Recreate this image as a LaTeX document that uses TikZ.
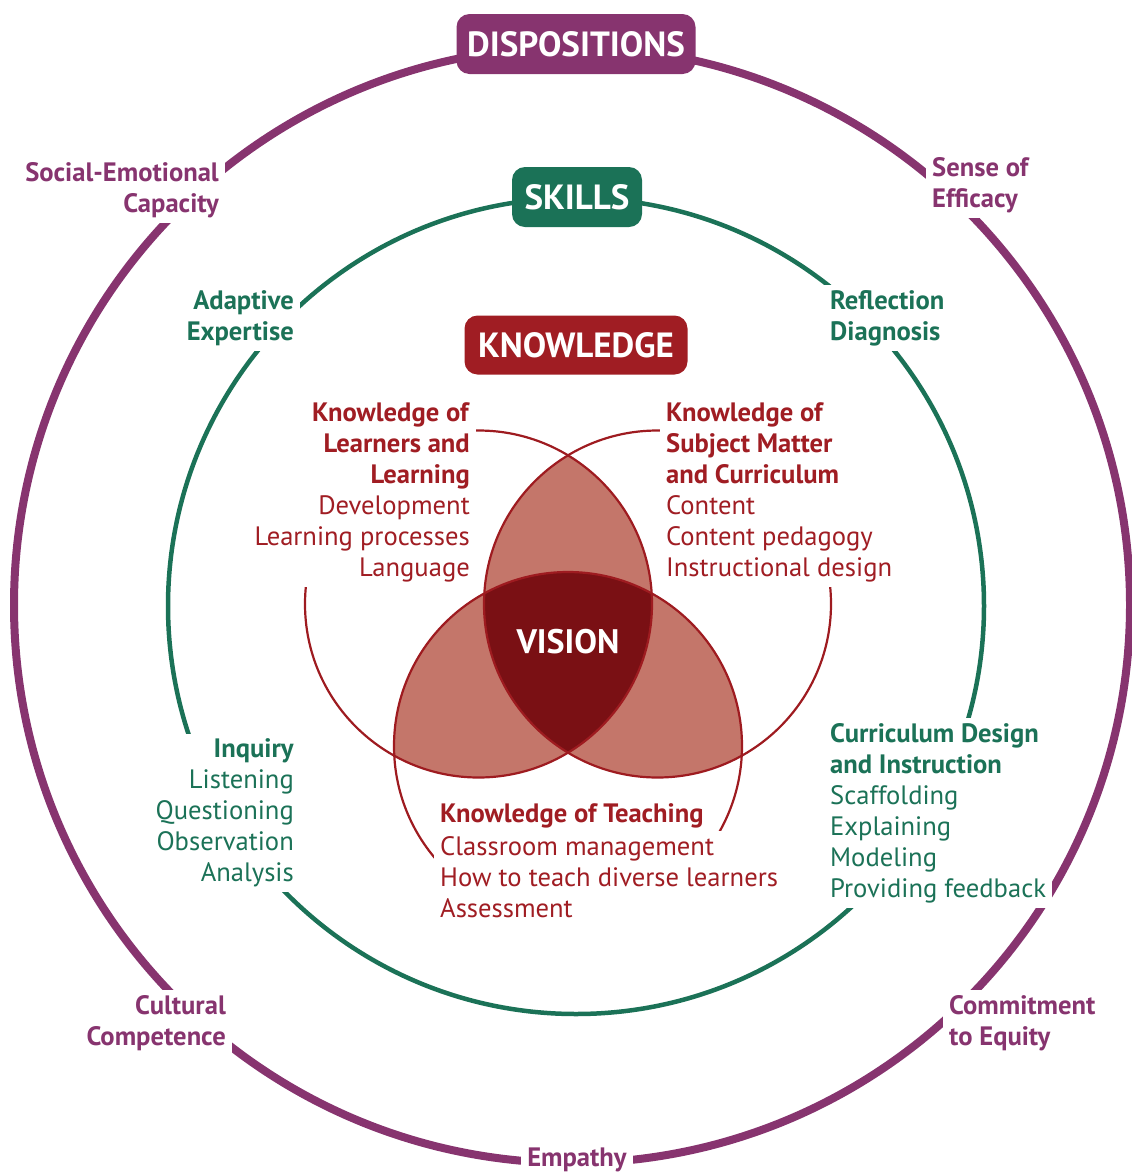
\documentclass[tikz,border=0pt]{standalone}
\usepackage{fontspec}
\setmainfont{PT Sans}
\usetikzlibrary{positioning}
\definecolor{dispurple}{RGB}{135,52,111}
\definecolor{skillgreen}{RGB}{27,114,87}
\definecolor{knowred}{RGB}{160,29,35}
\definecolor{vennline}{RGB}{158,27,32}
\definecolor{vennpair}{RGB}{196,118,106}
\definecolor{venncore}{RGB}{122,16,20}

\begin{document}
\begin{tikzpicture}[x=1pt, y=-1pt,
  every node/.style={font=\fontsize{26.6}{31}\selectfont},
  banner/.style={rounded corners=13pt, text=white, font=\fontsize{35}{35}\selectfont\bfseries, inner sep=0pt, minimum height=60pt},
  lbl/.style={fill=white, inner xsep=6pt, inner ysep=5pt},
  outerlbl/.style={lbl, text=dispurple, font=\fontsize{26.6}{31}\selectfont\bfseries},
  skilllbl/.style={lbl, text=skillgreen},
  knowlbl/.style={lbl, text=knowred}]
\useasboundingbox (0,0) rectangle (1132,1176);
\coordinate (ctrO) at (572,605);
\coordinate (ctrS) at (576,606);
\coordinate (ctrA) at (478.5,604);
\coordinate (ctrB) at (657.5,604);
\coordinate (ctrC) at (568,746);

\draw[dispurple, line width=8pt] (ctrO) circle[radius=558pt];
\draw[skillgreen, line width=4.5pt] (ctrS) circle[radius=408pt];

\begin{scope}
\clip (ctrA) circle[radius=173.5pt];
\fill[vennpair] (ctrB) circle[radius=173.5pt];
\fill[vennpair] (ctrC) circle[radius=174pt];
\end{scope}
\begin{scope}
\clip (ctrB) circle[radius=173.5pt];
\fill[vennpair] (ctrC) circle[radius=174pt];
\end{scope}
\begin{scope}
\clip (ctrA) circle[radius=173.5pt];
\clip (ctrB) circle[radius=173.5pt];
\fill[venncore] (ctrC) circle[radius=174pt];
\end{scope}
\draw[vennline, line width=2.2pt] (ctrA) circle[radius=173.5pt];
\draw[vennline, line width=2.2pt] (ctrB) circle[radius=173.5pt];
\draw[vennline, line width=2.2pt] (ctrC) circle[radius=174pt];

\node[banner, fill=dispurple, minimum width=239pt] (dispositions) at (576,44) {DISPOSITIONS};
\node[banner, fill=skillgreen, minimum width=130pt] (skills) at (577,197) {SKILLS};
\node[banner, fill=knowred, minimum width=223pt, minimum height=59pt] (knowledge) at (576,345) {KNOWLEDGE};
\node[text=white, font=\fontsize{34}{34}\selectfont\bfseries] (vision) at (568,642) {VISION};

\node[outerlbl, align=right, anchor=east] (socemo) at (225,190) {Social-Emotional\\Capacity};
\node[outerlbl, align=left, anchor=west] (efficacy) at (926,185) {Sense of\\Efficacy};
\node[outerlbl, align=right, anchor=east] (cultural) at (232,1023) {Cultural\\Competence};
\node[outerlbl, align=left, anchor=west] (equity) at (943,1023) {Commitment\\to Equity};
\node[outerlbl, inner ysep=2pt] (empathy) at (577,1160) {Empathy};

\node[skilllbl, align=right, anchor=east, font=\fontsize{26.6}{31}\selectfont\bfseries] (adaptive) at (300,318) {Adaptive\\Expertise};
\node[skilllbl, align=left, anchor=west, font=\fontsize{26.6}{31}\selectfont\bfseries] (reflection) at (824,318) {Reflection\\Diagnosis};
\node[skilllbl, align=right, anchor=east] (inquiry) at (300,813) {\textbf{Inquiry}\\Listening\\Questioning\\Observation\\Analysis};
\node[skilllbl, align=left, anchor=west] (curriculum) at (824,813) {\textbf{Curriculum Design}\\\textbf{and Instruction}\\Scaffolding\\Explaining\\Modeling\\Providing feedback};

\node[knowlbl, align=right, anchor=east] (learners) at (476,492) {\textbf{Knowledge of}\\\textbf{Learners and}\\\textbf{Learning}\\Development\\Learning processes\\Language};
\node[knowlbl, align=left, anchor=west] (subject) at (660,492) {\textbf{Knowledge of}\\\textbf{Subject Matter}\\\textbf{and Curriculum}\\Content\\Content pedagogy\\Instructional design};
\node[text=knowred, anchor=west, inner sep=0pt, font=\fontsize{26.6}{31}\selectfont\bfseries] (teachtitle) at (440,816) {Knowledge of Teaching};
\node[knowlbl, align=left, anchor=west] (teaching) at (434,877) {Classroom management\\How to teach diverse learners\\Assessment};
\end{tikzpicture}
\end{document}
